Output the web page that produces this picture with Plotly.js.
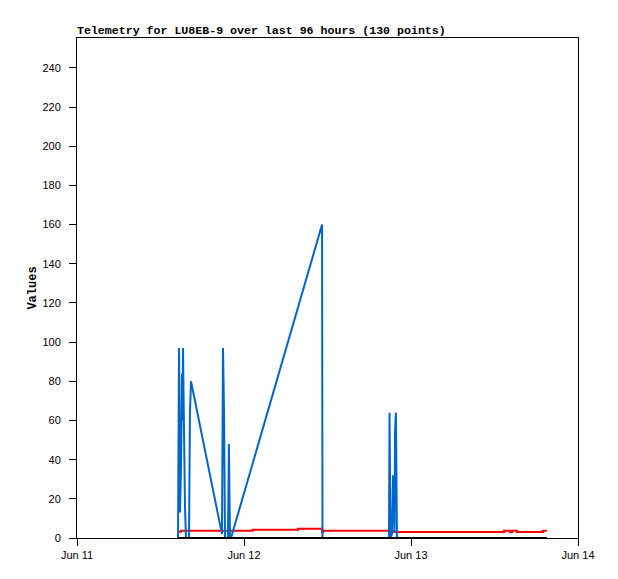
<!DOCTYPE html>
<html><head><meta charset="utf-8">
<script src="https://cdn.plot.ly/plotly-3.0.1.min.js"></script>
<style>html,body{margin:0;padding:0;background:#fff}#chart{width:618px;height:579px}</style>
</head><body><div id="chart"></div>
<script>
const chartTitle = "Telemetry for LU8EB-9 over last 96 hours (130 points)";
const yTitle = "Values";
const xTickVals = ["2024-06-11", "2024-06-12", "2024-06-13", "2024-06-14"];
const xTickText = ["Jun 11", "Jun 12", "Jun 13", "Jun 14"];

const blueTimes = ["2024-06-11 14:31","2024-06-11 14:40","2024-06-11 14:48","2024-06-11 14:57","2024-06-11 15:05","2024-06-11 15:10","2024-06-11 15:14","2024-06-11 15:23","2024-06-11 15:31","2024-06-11 15:40","2024-06-11 16:06","2024-06-11 16:14","2024-06-11 16:23","2024-06-11 20:50","2024-06-11 20:59","2024-06-11 21:08","2024-06-11 21:16","2024-06-11 21:42","2024-06-11 21:50","2024-06-11 21:59","2024-06-11 22:08","2024-06-12 11:13","2024-06-12 11:17","2024-06-12 20:50","2024-06-12 20:55","2024-06-12 21:03","2024-06-12 21:16","2024-06-12 21:25","2024-06-12 21:34","2024-06-12 21:38","2024-06-12 21:42","2024-06-12 21:50","2024-06-12 21:59","2024-06-13 19:24"];
const blueValues = [0,97,13,36,84,60,97,48,16,0,0,64,80,2,97,64,0,0,48,0,0,160,0,0,64,0,2,32,11,3,54,64,0,0];

const redTimes = ["2024-06-11 14:40","2024-06-11 14:57","2024-06-12 01:15","2024-06-12 07:46","2024-06-12 11:13","2024-06-12 11:21","2024-06-12 21:25","2024-06-13 13:22","2024-06-13 14:14","2024-06-13 14:31","2024-06-13 15:14","2024-06-13 18:58","2024-06-13 19:32"];
const redValues = [3.2,3.7,4.2,4.7,3.0,3.7,3.1,3.7,3.1,3.7,3.1,3.7,3.7];

const blackTimes = ["2024-06-11 14:31","2024-06-13 19:32"];
const blackValues = [0,0];

const traces = [
  {x: redTimes, y: redValues, type: "scatter", mode: "lines", line: {color: "#ff0000", width: 2, shape: "hv"}, hoverinfo: "skip"},
  {x: blueTimes, y: blueValues, type: "scatter", mode: "lines", line: {color: "#0066cc", width: 2}, hoverinfo: "skip"},
  {x: blackTimes, y: blackValues, type: "scatter", mode: "lines", line: {color: "#000000", width: 2}, hoverinfo: "skip"}
];

const layout = {
  width: 618, height: 579,
  margin: {l: 77, r: 40, t: 38, b: 41, pad: 0},
  paper_bgcolor: "#fff", plot_bgcolor: "#fff",
  showlegend: false,
  title: {text: chartTitle, x: 0, xref: "paper", xanchor: "left", y: 1, yref: "paper", yanchor: "bottom", pad: {b: 4},
          font: {family: "Liberation Mono, DejaVu Sans Mono, monospace", size: 11.6, color: "#000", weight: "bold"}},
  xaxis: {type: "date", range: ["2024-06-11", "2024-06-14"], tickvals: xTickVals, ticktext: xTickText,
          showgrid: false, zeroline: false, showline: true, linecolor: "#000", linewidth: 1, mirror: true,
          ticks: "outside", ticklen: 7, tickcolor: "#000", tickwidth: 1,
          tickfont: {family: "Liberation Sans, Arial, sans-serif", size: 11, color: "#000"}},
  yaxis: {range: [0, 255.3], tickvals: [0,20,40,60,80,100,120,140,160,180,200,220,240],
          showgrid: false, zeroline: false, showline: true, linecolor: "#000", linewidth: 1, mirror: true,
          ticks: "outside", ticklen: 7, tickcolor: "#000", tickwidth: 1, ticklabelstandoff: 6,
          tickfont: {family: "Liberation Sans, Arial, sans-serif", size: 11, color: "#000"},
          title: {text: yTitle, standoff: 3, font: {family: "Liberation Mono, DejaVu Sans Mono, monospace", size: 12, color: "#000", weight: "bold"}}}
};

Plotly.newPlot("chart", traces, layout, {displayModeBar: false, staticPlot: true});
</script></body></html>
